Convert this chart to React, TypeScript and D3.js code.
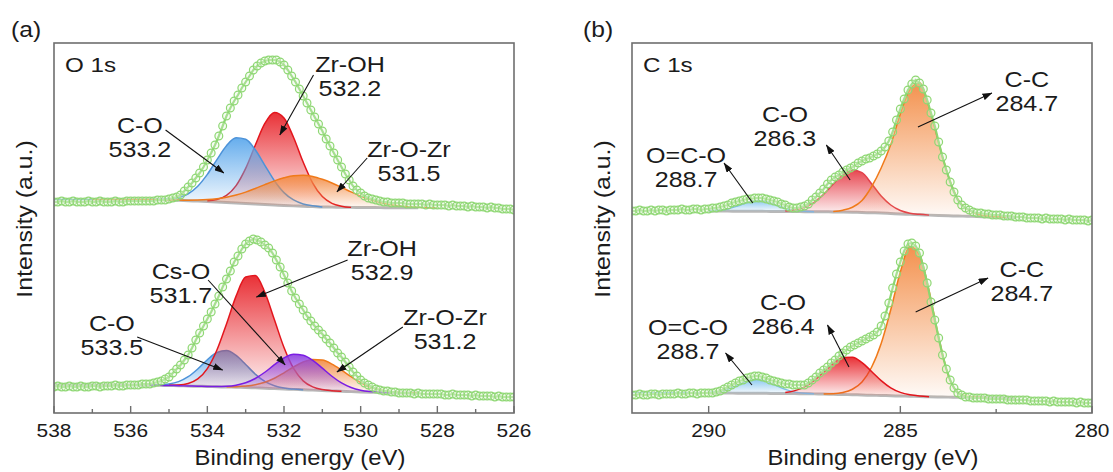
import React from "react";
import * as d3 from "d3";

const W = 1113;
const H = 472;
const FONT = "'Liberation Sans', Arial, Helvetica, sans-serif";

// ---- panel (a) O 1s : measured points, 538.0 -> 526.0 eV, 0.1 eV step
const o1sTopData = [
  211, 211, 212, 211, 211, 212, 211, 211, 211, 212, 211, 211, 212, 211, 211, 211, 212, 211, 211, 212, 212,
  212, 212, 212, 212, 212, 212, 213, 213, 213, 214,
  215, 216, 218, 222, 226, 230, 235, 240, 246, 253,
  260, 268, 277, 287, 297, 305, 312, 318, 325, 331,
  337, 343, 347, 350, 352, 353, 353, 353, 351, 348,
  343, 337, 331, 324, 317, 310, 303, 296, 289, 282,
  274, 267, 260, 253, 246, 239, 233, 227, 223, 220,
  217, 215, 214, 213, 212, 211, 211, 210, 210, 210,
  210, 209, 209, 209, 209, 209, 208, 209, 208, 208,
  208, 208, 207, 208, 207, 207, 207, 206, 207, 206,
  206, 206, 205, 206, 205, 205, 204, 204, 204, 203,
];
const o1sBotData = [
  26, 27, 26, 26, 27, 26, 26, 27, 26, 26, 27, 27, 26, 27, 27, 27, 28, 27, 27, 28, 28,
  28, 28, 29, 29, 29, 30, 31, 32, 34, 36,
  40, 44, 48, 53, 58, 65, 73, 80, 87, 94,
  101, 109, 117, 126, 134, 142, 151, 157, 164, 169,
  172, 174, 173, 171, 168, 165, 160, 153, 146, 138,
  130, 122, 115, 109, 103, 97, 92, 87, 83, 79,
  74, 70, 65, 60, 56, 51, 46, 41, 37, 33,
  30, 28, 26, 24, 23, 22, 22, 21, 21, 20,
  20, 20, 20, 19, 20, 19, 19, 19, 19, 19,
  19, 18, 18, 19, 18, 18, 18, 18, 17, 18,
  17, 17, 17, 17, 16, 17, 16, 16, 16, 16,
];

// fitted components, 0.25 eV step from their start energy
const o1sTopCO = [0.3, 1.0, 2.8, 7.0, 14.9, 27.1, 42.4, 56.8, 65.2, 64.2, 54.2, 39.2, 24.3, 12.9, 5.9, 2.3, 0.8, 0];
const o1sTopZrOH = [0.7, 2.4, 7.1, 17.4, 35.1, 58.7, 81.1, 92.6, 87.5, 68.4, 44.2, 23.6, 10.4, 3.8, 1.1, 0];
const o1sTopZrOZr = [0.1, 0.3, 0.6, 1.1, 1.9, 3.3, 5.2, 8.0, 11.4, 15.5, 19.9, 24.1, 27.7, 30.2, 31, 30.2, 27.7, 24.1, 19.9, 15.5, 11.4, 8.0, 5.2, 3.3, 1.9, 1.1, 0.6, 0.3, 0.1];
const o1sBotCO = [0.1, 0.5, 1.5, 4.1, 9.3, 17.3, 26.8, 34.3, 36.4, 31.8, 23.0, 13.8, 6.8, 2.8, 0.9, 0.3, 0];
const o1sBotZrOH = [0.2, 0.7, 2.5, 7.3, 17.9, 36.7, 63.1, 91.1, 110.5, 112.4, 96.0, 68.9, 41.5, 20.9, 8.9, 3.2, 0.9, 0.2, 0];
const o1sBotCsO = [0.1, 0.3, 0.8, 2.1, 4.8, 9.4, 16.0, 23.9, 31.0, 35.1, 34.6, 29.8, 22.3, 14.6, 8.3, 4.1, 1.8, 0.7, 0.2, 0];
const o1sBotZrOZr = [0.2, 0.6, 1.4, 3.1, 6.0, 10.4, 16.2, 22.4, 27.8, 30.7, 30.4, 26.8, 21.2, 14.9, 9.4, 5.3, 2.7, 1.2, 0.5, 0.2, 0];

const o1sTopBaseE = [538, 535.5, 535, 534, 533, 532, 531, 530, 528];
const o1sTopBaseI = [213.5, 213.5, 213, 211.5, 209.5, 207.5, 206, 205.5, 205];
const o1sBotBaseE = [538, 535.5, 535, 534, 533, 532, 531, 530, 529, 528.5];
const o1sBotBaseI = [28, 28, 27.5, 26.5, 25.5, 24, 22.5, 21, 20, 20];

// ---- panel (b) C 1s : measured points, 292.0 -> 280.0 eV, 0.1 eV step
const c1sTopData = [
  202, 202, 203, 202, 202, 203, 202, 203, 203, 202, 203, 203, 203, 204, 203, 203, 204, 204, 203, 204, 204,
  205, 205, 206, 207, 208, 210, 211, 212, 213, 214,
  214, 215, 215, 215, 214, 213, 212, 211, 209, 208,
  206, 205, 205, 206, 207, 209, 213, 216, 220, 224,
  229, 233, 236, 238, 241, 243, 245, 247, 250, 252,
  254, 255, 257, 259, 262, 266, 272, 281, 293, 304,
  314, 323, 329, 333, 330, 324, 313, 300, 287, 271,
  256, 243, 231, 221, 213, 208, 205, 203, 201, 200,
  200, 199, 199, 198, 198, 198, 197, 197, 197, 196,
  196, 196, 195, 195, 195, 195, 194, 195, 194, 194,
  194, 194, 193, 194, 193, 193, 193, 193, 192, 193,
];
const c1sBotData = [
  18, 18, 19, 18, 18, 19, 19, 18, 19, 19, 19, 19, 20, 19, 19, 20, 20, 19, 20, 20, 20,
  20, 21, 22, 24, 26, 28, 30, 32, 33, 35,
  36, 37, 37, 36, 35, 33, 32, 31, 30, 29,
  29, 28, 28, 28, 28, 30, 33, 36, 40, 43,
  46, 50, 53, 57, 60, 63, 66, 68, 70, 72,
  74, 76, 78, 81, 87, 97, 110, 125, 139, 151,
  162, 169, 170, 167, 160, 146, 130, 111, 93, 75,
  58, 44, 33, 25, 20, 18, 16, 16, 15, 15,
  15, 15, 14, 14, 14, 14, 14, 13, 13, 13,
  13, 13, 13, 12, 12, 12, 12, 12, 11, 12,
  11, 11, 11, 11, 11, 10, 11, 10, 10, 10,
];

const c1sTopOCO = [0.2, 0.7, 2.2, 5.2, 8.8, 10.9, 10.0, 6.6, 3.2, 1.2, 0.3, 0];
const c1sTopCO = [0.5, 1.6, 4.3, 9.5, 17.7, 27.9, 37.2, 41.9, 39.8, 29, 17, 8.5, 3.5, 1.2, 0.4, 0];
const c1sTopCC = [0.5, 1.8, 5, 12, 26, 45, 69, 100, 125, 132, 108, 73, 40, 17, 7, 2.5, 0.7, 0.2, 0];
const c1sBotOCO = [0.4, 1.5, 4.1, 8.1, 12.2, 14, 12.2, 8.1, 4.1, 1.5, 0.4, 0];
const c1sBotCC = [0.1, 0.5, 2, 5.5, 13, 28, 52, 86, 124, 150, 142, 106, 60, 22, 5, 1, 0.2, 0];
const c1sBotCO = [1.1, 3.0, 6.8, 13.3, 21.9, 30.9, 36.9, 37.5, 32.4, 23.8, 14.9, 7.9, 3.6, 1.4, 0.4, 0];

const c1sTopBaseE = [290, 288, 286.5, 285.5, 285, 284, 283, 282];
const c1sTopBaseI = [202, 201.5, 201, 200, 199, 197.5, 196.5, 195.5];
const c1sBotBaseE = [292, 290, 289, 288, 287, 286, 285, 284, 283, 282];
const c1sBotBaseI = [20.5, 20, 19.8, 19.5, 19, 18, 17, 16, 15.5, 15];

const o1sMajor = [538, 536, 534, 532, 530, 528, 526];
const o1sMinor = [537, 535, 533, 531, 529, 527];
const c1sMajor = [290, 285, 280];
const c1sMinor = [287.5, 282.5];

const COLORS = {
  blue: { line: "#4d93d9", fill: "#5ea9ec" },
  lightBlue: { line: "#7dbde9", fill: "#86c6f0" },
  red: { line: "#e3161d", fill: "#e8262c" },
  pink: { line: "#e2404a", fill: "#e63e48" },
  orange: { line: "#f07a1a", fill: "#f38c45" },
  purple: { line: "#7b1de3", fill: "#9145e0" },
};

type Comp = { start: number; values: number[]; color: keyof typeof COLORS; from?: number };
type Note = { text: string[]; e: number; i: number; from: [number, number]; to: [number, number] };
type Spectrum = { data: number[]; baseE: number[]; baseI: number[]; fit: [number, number]; comps: Comp[]; notes: Note[] };

const panels = [
  {
    id: "a",
    letter: "(a)",
    title: "O 1s",
    left: 54,
    domain: [538, 526] as [number, number],
    major: o1sMajor,
    minor: o1sMinor,
    titleDx: 16,
    spectra: [
      {
        data: o1sTopData,
        baseE: o1sTopBaseE,
        baseI: o1sTopBaseI,
        fit: [535.5, 528.5],
        comps: [
          { start: 534.0, values: o1sTopZrOH, color: "red" },
          { start: 535.25, values: o1sTopCO, color: "blue", from: 538 },
          { start: 535.0, values: o1sTopZrOZr, color: "orange", from: 537 },
        ],
        notes: [
          { text: ["C-O", "533.2"], e: 535.76, i: 280, from: [535.09, 283], to: [533.57, 240] },
          { text: ["Zr-OH", "532.2"], e: 530.28, i: 341, from: [531.23, 338], to: [532.11, 278] },
          { text: ["Zr-O-Zr", "531.5"], e: 528.74, i: 256, from: [529.83, 255], to: [530.62, 221] },
        ],
      },
      {
        data: o1sBotData,
        baseE: o1sBotBaseE,
        baseI: o1sBotBaseI,
        fit: [538, 528.5],
        comps: [
          { start: 535.5, values: o1sBotCO, color: "blue" },
          { start: 535.0, values: o1sBotZrOH, color: "red" },
          { start: 533.5, values: o1sBotZrOZr, color: "orange" },
          { start: 534.0, values: o1sBotCsO, color: "purple", from: 535.5 },
        ],
        notes: [
          { text: ["Zr-OH", "532.9"], e: 529.44, i: 157, from: [530.34, 153], to: [532.72, 116] },
          { text: ["Cs-O", "531.7"], e: 534.69, i: 134, from: [533.98, 133], to: [531.97, 48] },
          { text: ["C-O", "533.5"], e: 536.49, i: 82, from: [535.83, 76], to: [533.6, 43] },
          { text: ["Zr-O-Zr", "531.2"], e: 527.8, i: 88, from: [528.9, 86], to: [530.62, 41] },
        ],
      },
    ] as Spectrum[],
  },
  {
    id: "b",
    letter: "(b)",
    title: "C 1s",
    left: 632,
    domain: [292, 280] as [number, number],
    major: c1sMajor,
    minor: c1sMinor,
    titleDx: 11,
    spectra: [
      {
        data: c1sTopData,
        baseE: c1sTopBaseE,
        baseI: c1sTopBaseI,
        fit: [290, 282],
        comps: [
          { start: 290.0, values: c1sTopOCO, color: "lightBlue" },
          { start: 288.0, values: c1sTopCO, color: "pink" },
          { start: 286.75, values: c1sTopCC, color: "orange" },
        ],
        notes: [
          { text: ["C-C", "284.7"], e: 281.7, i: 326, from: [284.54, 286], to: [282.61, 320] },
          { text: ["C-O", "286.3"], e: 288.01, i: 291, from: [286.31, 233], to: [286.93, 268] },
          { text: ["O=C-O", "288.7"], e: 290.59, i: 250, from: [288.85, 210], to: [289.6, 250] },
        ],
      },
      {
        data: c1sBotData,
        baseE: c1sBotBaseE,
        baseI: c1sBotBaseI,
        fit: [290, 282],
        comps: [
          { start: 290.0, values: c1sBotOCO, color: "lightBlue", from: 292 },
          { start: 287.0, values: c1sBotCC, color: "orange" },
          { start: 288.0, values: c1sBotCO, color: "red" },
        ],
        notes: [
          { text: ["C-C", "284.7"], e: 281.83, i: 136, from: [284.6, 101], to: [282.71, 135] },
          { text: ["C-O", "286.4"], e: 288.06, i: 103, from: [286.34, 46], to: [286.9, 88] },
          { text: ["O=C-O", "288.7"], e: 290.54, i: 78, from: [288.87, 28], to: [289.56, 60] },
        ],
      },
    ] as Spectrum[],
  },
];

const PW = 460;
const TOP = 43;
const BOTTOM = 413;
const STEP = 0.25;

function Label({ x, y, size, sx = 1.14, anchor = "middle", rotate = 0, children }: any) {
  const t = `translate(${x},${y})` + (rotate ? ` rotate(${rotate})` : "") + ` scale(${sx},1)`;
  return (
    <text transform={t} fontSize={size} textAnchor={anchor} fill="#1b1b1b">
      {children}
    </text>
  );
}

function Panel({ p, y }: any) {
  const x = d3.scaleLinear().domain(p.domain).range([p.left, p.left + PW]);
  const clipId = `clip-${p.id}`;

  return (
    <g>
      <clipPath id={clipId}>
        <rect x={p.left} y={TOP} width={PW} height={BOTTOM - TOP} />
      </clipPath>
      <g clipPath={`url(#${clipId})`}>
        {p.spectra.map((s: Spectrum, si: number) => {
          const base = d3.scaleLinear().domain(s.baseE).range(s.baseI).clamp(true);
          const n = Math.round((s.fit[0] - s.fit[1]) / STEP) + 1;
          const grid = d3.range(n).map((k) => s.fit[0] - k * STEP);
          const baseLine = d3
            .line<number>()
            .x((e) => x(e))
            .y((e) => y(base(e)))
            .curve(d3.curveMonotoneX);
          const energies = s.data.map((_, i) => p.domain[0] - i * 0.1);
          const dataLine = d3
            .line<number>()
            .x((_, i) => x(energies[i]))
            .y((v) => y(v));
          return (
            <g key={si}>
              <path d={baseLine(grid) || ""} fill="none" stroke="#b8b8b8" strokeWidth={3} />
              {s.comps.map((c, ci) => {
                const col = COLORS[c.color];
                const gid = `g-${p.id}-${si}-${ci}`;
                const pts = c.values.map((v, i) => [c.start - i * STEP, v] as [number, number]);
                const lead = c.from
                  ? d3
                      .range(Math.round((c.from - c.start) / STEP))
                      .map((k) => [c.from! - k * STEP, 0] as [number, number])
                  : [];
                const area = d3
                  .area<[number, number]>()
                  .x((d) => x(d[0]))
                  .y0((d) => y(base(d[0])))
                  .y1((d) => y(base(d[0]) + d[1]))
                  .curve(d3.curveMonotoneX);
                const line = d3
                  .line<[number, number]>()
                  .x((d) => x(d[0]))
                  .y((d) => y(base(d[0]) + d[1]))
                  .curve(d3.curveMonotoneX);
                return (
                  <g key={ci}>
                    <linearGradient id={gid} x1="0" y1="0" x2="0" y2="1">
                      <stop offset="0%" stopColor={col.fill} stopOpacity={0.95} />
                      <stop offset="100%" stopColor={col.fill} stopOpacity={0.04} />
                    </linearGradient>
                    <path d={area(pts) || ""} fill={`url(#${gid})`} />
                    <path d={line([...lead, ...pts]) || ""} fill="none" stroke={col.line} strokeWidth={1.5} />
                  </g>
                );
              })}
              <path d={dataLine(s.data) || ""} fill="none" stroke="#8cd670" strokeWidth={2.2} />
              {s.data.map((v, i) => (
                <circle
                  key={i}
                  cx={x(energies[i])}
                  cy={y(v)}
                  r={3.9}
                  fill="#e4f6dc"
                  fillOpacity={0.3}
                  stroke="#8ed773"
                  strokeWidth={1.2}
                />
              ))}
            </g>
          );
        })}
      </g>

      {p.spectra.map((s: Spectrum, si: number) =>
        s.notes.map((nt, ni) => (
          <g key={`${si}-${ni}`}>
            <line
              x1={x(nt.from[0])}
              y1={y(nt.from[1])}
              x2={x(nt.to[0])}
              y2={y(nt.to[1])}
              stroke="#111"
              strokeWidth={1.1}
              markerEnd="url(#arrowhead)"
            />
            {nt.text.map((t, k) => (
              <Label key={k} x={x(nt.e)} y={y(nt.i) + k * 24} size={22}>
                {t}
              </Label>
            ))}
          </g>
        ))
      )}

      <rect x={p.left} y={TOP} width={PW} height={BOTTOM - TOP} fill="none" stroke="#6e6e6e" strokeWidth={1.6} />
      {p.major.map((t: number) => (
        <g key={`M${t}`}>
          <line x1={x(t)} x2={x(t)} y1={BOTTOM} y2={BOTTOM - 7} stroke="#6e6e6e" strokeWidth={1.4} />
          <Label x={x(t)} y={437} size={18} sx={1.16}>
            {t}
          </Label>
        </g>
      ))}
      {p.minor.map((t: number) => (
        <line key={`m${t}`} x1={x(t)} x2={x(t)} y1={BOTTOM} y2={BOTTOM - 4} stroke="#6e6e6e" strokeWidth={1.4} />
      ))}

      <Label x={p.left + PW / 2 + p.titleDx} y={465} size={21.5} sx={1.11}>
        Binding energy (eV)
      </Label>
      <Label x={p.left - 22.5} y={219} size={22} sx={1.13} rotate={-90}>
        Intensity (a.u.)
      </Label>
      <Label x={p.left + 11} y={72} size={20.5} sx={1.18} anchor="start">
        {p.title}
      </Label>
      <Label x={p.left - 43 + (p.id === "b" ? -6 : 0)} y={37} size={22} sx={1.12} anchor="start">
        {p.letter}
      </Label>
    </g>
  );
}

export default function App() {
  const y = d3.scaleLinear().domain([0, 370]).range([BOTTOM, TOP]);
  return (
    <svg
      width={W}
      height={H}
      style={{ position: "absolute", left: 0, top: 0, background: "#fff" }}
      fontFamily={FONT}
    >
      <defs>
        <marker
          id="arrowhead"
          viewBox="0 0 10 7"
          refX={9.5}
          refY={3.5}
          markerWidth={10}
          markerHeight={7}
          markerUnits="userSpaceOnUse"
          orient="auto"
        >
          <path d="M0,0 L10,3.5 L0,7 z" fill="#111" />
        </marker>
      </defs>
      <rect width={W} height={H} fill="#fff" />
      {panels.map((p) => (
        <Panel key={p.id} p={p} y={y} />
      ))}
    </svg>
  );
}
